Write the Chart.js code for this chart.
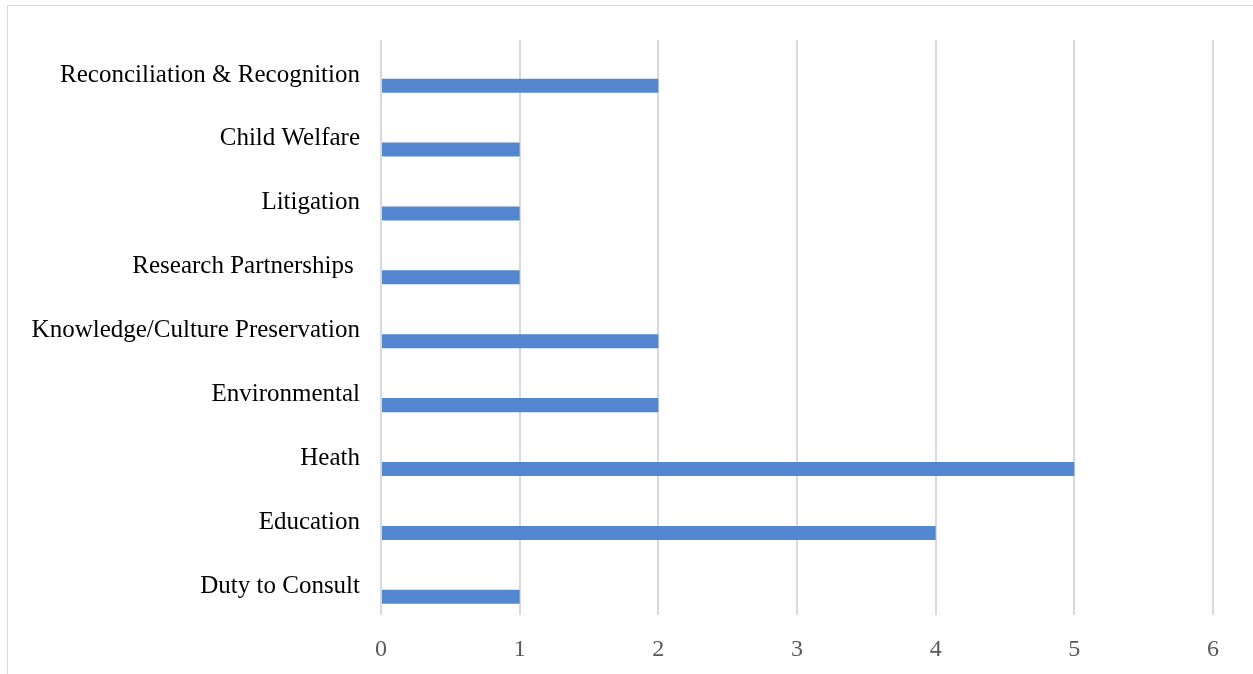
<!DOCTYPE html>
<html>
<head>
<meta charset="utf-8">
<script src="https://cdn.jsdelivr.net/npm/chart.js@4"></script>
<style>
  html, body { margin: 0; padding: 0; overflow: hidden; background: #fff; }
  #frame {
    position: absolute; left: 7px; top: 5px;
    width: 1300px; height: 720px;
    border: 1.5px solid #d9d9d9;
  }
  #wrap { position: absolute; left: 0; top: 0; width: 1253px; height: 674px; }
</style>
</head>
<body>
<div id="frame"></div>
<div id="wrap"><canvas id="barChart"></canvas></div>
<script>
const categories = [
    'Reconciliation & Recognition',
    'Child Welfare',
    'Litigation',
    'Research Partnerships ',
    'Knowledge/Culture Preservation',
    'Environmental',
    'Heath',
    'Education',
    'Duty to Consult'
];
const counts = [2, 1, 1, 1, 2, 2, 5, 4, 1];
const emptySeries = [null, null, null, null, null, null, null, null, null];
const xTicks = [0, 1, 2, 3, 4, 5, 6];

const serif = "'Liberation Serif', 'DejaVu Serif', serif";

new Chart(document.getElementById('barChart'), {
    type: 'bar',
    data: {
        labels: categories,
        datasets: [
            {
                label: 'Hidden',
                data: emptySeries,
                backgroundColor: 'rgba(0,0,0,0)'
            },
            {
                label: 'Count',
                data: counts,
                backgroundColor: '#5586d0',
                borderWidth: 0
            }
        ]
    },
    options: {
        indexAxis: 'y',
        responsive: true,
        maintainAspectRatio: false,
        animation: false,
        categoryPercentage: 0.86,
        barPercentage: 0.51,
        layout: { padding: { top: 40, right: 40, left: 0, bottom: 0 } },
        plugins: {
            legend: { display: false },
            tooltip: { enabled: false }
        },
        scales: {
            x: {
                min: 0,
                max: 6,
                afterBuildTicks: (scale) => {
                    scale.ticks = xTicks.map(v => ({ value: v }));
                },
                afterFit: (scale) => { scale.height = 59; },
                grid: { color: '#d9d9d9', lineWidth: 2, drawTicks: false },
                border: { display: false },
                ticks: {
                    color: '#595959',
                    padding: 20,
                    font: { family: serif, size: 24 }
                }
            },
            y: {
                afterFit: (scale) => { scale.width = 381; },
                grid: { display: false, drawTicks: false },
                border: { display: false },
                ticks: {
                    color: '#000',
                    padding: 21,
                    labelOffset: 3,
                    font: { family: serif, size: 25 }
                }
            }
        }
    }
});
</script>
</body>
</html>
